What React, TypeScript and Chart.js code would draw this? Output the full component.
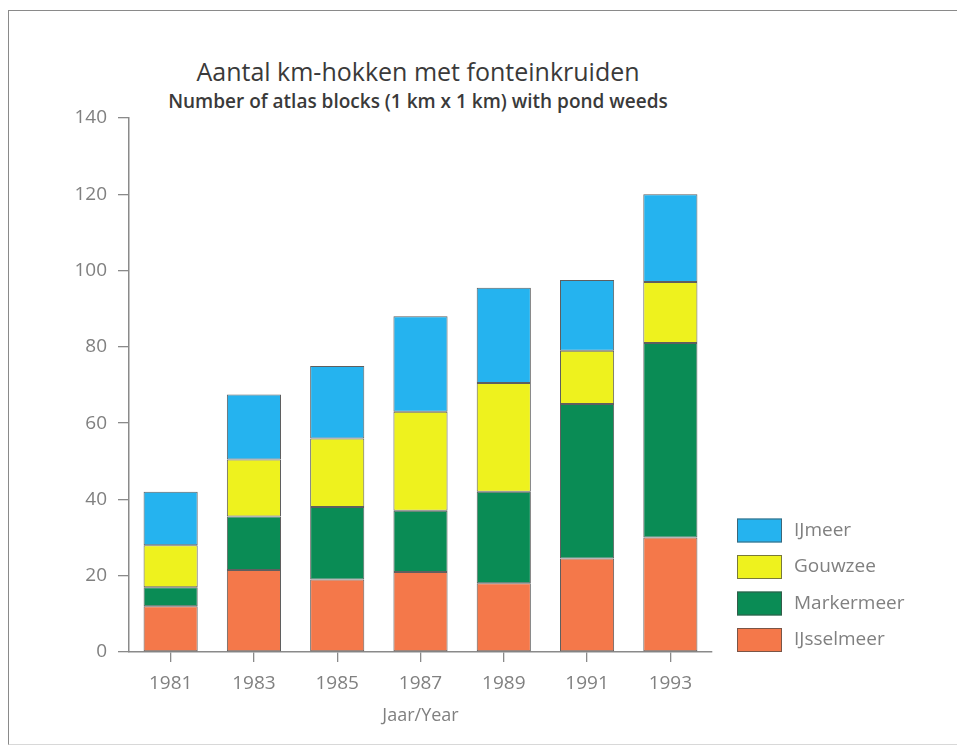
import React, { useEffect, useRef } from "react";
import { Chart, registerables } from "chart.js";

Chart.register(...registerables);

const years = ["1981", "1983", "1985", "1987", "1989", "1991", "1993"];
const ijsselmeer = [12, 21.5, 19, 21, 18, 24.5, 30];
const markermeer = [5, 14, 19, 16, 24, 40.5, 51];
const gouwzee = [11, 15, 18, 26, 28.5, 14, 16];
const ijmeer = [14, 17, 19, 25, 25, 18.5, 23];
const seriesNames = ["IJsselmeer", "Markermeer", "Gouwzee", "IJmeer"];
const seriesColors = ["#f4784a", "#0a8c55", "#eef21e", "#25b3ef"];
const yTicks = [0, 20, 40, 60, 80, 100, 120, 140];

const titleText = "Aantal km-hokken met fonteinkruiden";
const subtitleText = "Number of atlas blocks (1 km x 1 km) with pond weeds";
const xTitle = "Jaar/Year";

const FONT = "'Open Sans', 'Noto Sans', sans-serif";

const sideLegend = {
  id: "sideLegend",
  afterDraw(chart: any) {
    const { ctx, chartArea } = chart;
    const ds = chart.data.datasets;
    const boxW = 45;
    const boxH = 24;
    const step = 36.5;
    const x = chartArea.right + 25;
    const n = ds.length;
    const top = chartArea.bottom - boxH - (n - 1) * step;
    ctx.save();
    ctx.font = `19px ${FONT}`;
    ctx.textBaseline = "middle";
    ctx.textAlign = "left";
    for (let i = 0; i < n; i++) {
      const d = ds[n - 1 - i];
      const y = top + i * step;
      ctx.fillStyle = d.backgroundColor;
      ctx.fillRect(x, y, boxW, boxH);
      ctx.strokeStyle = "rgba(70,70,70,0.7)";
      ctx.lineWidth = 1;
      ctx.strokeRect(x + 0.5, y + 0.5, boxW - 1, boxH - 1);
      ctx.fillStyle = "#808080";
      ctx.fillText(d.label, x + 57, y + boxH / 2);
    }
    ctx.restore();
  },
};

export default function App() {
  const canvasRef = useRef<HTMLCanvasElement | null>(null);

  useEffect(() => {
    if (!canvasRef.current) return;
    const seriesData = [ijsselmeer, markermeer, gouwzee, ijmeer];
    const chart = new Chart(canvasRef.current, {
      type: "bar",
      data: {
        labels: years,
        datasets: seriesNames.map((name, i) => ({
          label: name,
          data: seriesData[i],
          backgroundColor: seriesColors[i],
          borderColor: "rgba(55,55,55,0.8)",
          borderWidth: 1,
          borderSkipped: false,
          barPercentage: 0.65,
          categoryPercentage: 1,
        })),
      },
      options: {
        animation: false,
        responsive: true,
        maintainAspectRatio: false,
        layout: { padding: { left: 0, top: 118, right: 245, bottom: 0 } },
        plugins: {
          legend: { display: false },
          tooltip: { enabled: false },
          title: { display: false },
        },
        scales: {
          x: {
            stacked: true,
            offset: true,
            grid: {
              offset: false,
              drawOnChartArea: false,
              drawTicks: true,
              tickLength: 10,
              color: "#8a8a8a",
              lineWidth: 1.3,
            },
            border: { display: true, color: "#8a8a8a", width: 1.5 },
            ticks: {
              color: "#808080",
              font: { family: FONT, size: 19 },
              padding: 10,
            },
            title: {
              display: true,
              text: xTitle,
              color: "#808080",
              font: { family: FONT, size: 18 },
              padding: { top: 0, bottom: 18 },
            },
            afterFit(scale: any) {
              scale.height = 93;
            },
          },
          y: {
            stacked: true,
            min: 0,
            max: 140,
            afterBuildTicks(scale: any) {
              scale.ticks = yTicks.map((v) => ({ value: v }));
            },
            grid: {
              drawOnChartArea: false,
              drawTicks: true,
              tickLength: 11,
              color: "#8a8a8a",
              lineWidth: 1.3,
            },
            border: { display: true, color: "#8a8a8a", width: 1.5 },
            ticks: {
              color: "#808080",
              font: { family: FONT, size: 19 },
              padding: 11,
            },
            afterFit(scale: any) {
              scale.width = 129;
            },
          },
        },
      },
      plugins: [sideLegend],
    });
    return () => chart.destroy();
  }, []);

  return (
    <div style={{ position: "absolute", left: 0, top: 0, width: 957, height: 745, background: "#fff", overflow: "hidden" }}>
      <div
        style={{
          position: "absolute",
          left: 8,
          top: 10,
          width: 960,
          height: 733,
          borderTop: "1.5px solid #8a8a8a",
          borderLeft: "1.5px solid #8a8a8a",
          borderBottom: "1px solid #d8d8d8",
        }}
      />
      <div
        style={{
          position: "absolute",
          left: 0,
          width: 836,
          top: 56,
          textAlign: "center",
          fontFamily: FONT,
          fontSize: 25,
          fontWeight: 500,
          lineHeight: "30px",
          color: "#3a3a3a",
        }}
      >
        {titleText}
      </div>
      <div
        style={{
          position: "absolute",
          left: 0,
          width: 836,
          top: 89,
          textAlign: "center",
          fontFamily: FONT,
          fontSize: 19,
          fontWeight: 600,
          lineHeight: "24px",
          color: "#3a3a3a",
        }}
      >
        {subtitleText}
      </div>
      <canvas ref={canvasRef} style={{ position: "absolute", left: 0, top: 0, width: 957, height: 745 }} />
    </div>
  );
}
